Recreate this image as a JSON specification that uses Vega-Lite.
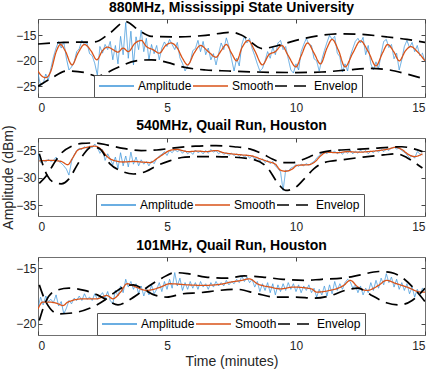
{
  "$schema": "https://vega.github.io/schema/vega-lite/v6.json",
  "padding": {"left": 1, "top": 0, "right": 5, "bottom": 0},
  "config": {
    "font": "Liberation Sans",
    "view": {"stroke": "#707070", "strokeWidth": 1},
    "axis": {"domain": false, "grid": false, "tickSize": -4, "tickColor": "#444444", "labelFontSize": 12, "labelColor": "#262626", "titleFontSize": 14, "titleFontWeight": "normal", "titleColor": "#262626", "titlePadding": 0},
    "axisX": {"labelPadding": 9.5},
    "axisY": {"labelPadding": 6},
    "legend": {"symbolType": "stroke", "symbolSize": 1225, "symbolStrokeWidth": 1.5, "labelFontSize": 12, "labelColor": "#000000", "labelOffset": 3, "columnPadding": 0, "padding": 4, "clipHeight": 14, "strokeColor": "#555555", "fillColor": "white", "cornerRadius": 0},
    "title": {"fontSize": 14, "fontWeight": "bold", "color": "#000000", "offset": 0, "frame": "group"},
    "concat": {"spacing": 41}
  },
  "bounds": "flush",
  "datasets": {
    "amp1": [
      {"t":0.0,"Amplitude":-22.5},{"t":0.1,"Amplitude":-24.8},{"t":0.2,"Amplitude":-24.5},{"t":0.3,"Amplitude":-22.6},{"t":0.4,"Amplitude":-23.8},{"t":0.5,"Amplitude":-21.5},{"t":0.6,"Amplitude":-19.2},{"t":0.7,"Amplitude":-17.5},{"t":0.8,"Amplitude":-16.2},{"t":0.9,"Amplitude":-17.5},
      {"t":1.0,"Amplitude":-16.3},{"t":1.1,"Amplitude":-19.5},{"t":1.2,"Amplitude":-21.8},{"t":1.3,"Amplitude":-21.2},{"t":1.4,"Amplitude":-20.3},{"t":1.5,"Amplitude":-18.2},{"t":1.6,"Amplitude":-17.6},{"t":1.7,"Amplitude":-16.0},{"t":1.8,"Amplitude":-16.8},{"t":1.9,"Amplitude":-16.5},
      {"t":2.0,"Amplitude":-18.6},{"t":2.1,"Amplitude":-19.0},{"t":2.2,"Amplitude":-20.5},{"t":2.3,"Amplitude":-22.8},{"t":2.4,"Amplitude":-17.2},{"t":2.5,"Amplitude":-18.5},{"t":2.6,"Amplitude":-16.8},{"t":2.7,"Amplitude":-17.8},{"t":2.8,"Amplitude":-16.2},{"t":2.9,"Amplitude":-19.8},
      {"t":3.0,"Amplitude":-17.0},{"t":3.1,"Amplitude":-20.6},{"t":3.2,"Amplitude":-15.2},{"t":3.3,"Amplitude":-18.8},{"t":3.4,"Amplitude":-12.5},{"t":3.5,"Amplitude":-19.5},{"t":3.6,"Amplitude":-14.2},{"t":3.7,"Amplitude":-20.8},{"t":3.8,"Amplitude":-15.3},{"t":3.9,"Amplitude":-17.8},
      {"t":4.0,"Amplitude":-14.0},{"t":4.1,"Amplitude":-18.2},{"t":4.2,"Amplitude":-15.6},{"t":4.3,"Amplitude":-19.8},{"t":4.4,"Amplitude":-16.8},{"t":4.5,"Amplitude":-18.6},{"t":4.6,"Amplitude":-17.0},{"t":4.7,"Amplitude":-19.8},{"t":4.8,"Amplitude":-17.5},{"t":4.9,"Amplitude":-16.3},
      {"t":5.0,"Amplitude":-17.2},{"t":5.1,"Amplitude":-15.8},{"t":5.2,"Amplitude":-16.8},{"t":5.3,"Amplitude":-17.8},{"t":5.4,"Amplitude":-16.4},{"t":5.5,"Amplitude":-19.4},{"t":5.6,"Amplitude":-20.5},{"t":5.7,"Amplitude":-22.0},{"t":5.8,"Amplitude":-21.0},{"t":5.9,"Amplitude":-20.2},
      {"t":6.0,"Amplitude":-18.0},{"t":6.1,"Amplitude":-17.6},{"t":6.2,"Amplitude":-16.0},{"t":6.3,"Amplitude":-18.2},{"t":6.4,"Amplitude":-16.2},{"t":6.5,"Amplitude":-18.8},{"t":6.6,"Amplitude":-17.5},{"t":6.7,"Amplitude":-19.8},{"t":6.8,"Amplitude":-18.6},{"t":6.9,"Amplitude":-20.8},
      {"t":7.0,"Amplitude":-18.6},{"t":7.1,"Amplitude":-16.5},{"t":7.2,"Amplitude":-17.8},{"t":7.3,"Amplitude":-15.5},{"t":7.4,"Amplitude":-17.2},{"t":7.5,"Amplitude":-19.6},{"t":7.6,"Amplitude":-22.0},{"t":7.7,"Amplitude":-19.5},{"t":7.8,"Amplitude":-21.0},{"t":7.9,"Amplitude":-16.8},
      {"t":8.0,"Amplitude":-15.2},{"t":8.1,"Amplitude":-16.5},{"t":8.2,"Amplitude":-15.6},{"t":8.3,"Amplitude":-17.6},{"t":8.4,"Amplitude":-19.0},{"t":8.5,"Amplitude":-20.6},{"t":8.6,"Amplitude":-22.0},{"t":8.7,"Amplitude":-21.5},{"t":8.8,"Amplitude":-20.0},{"t":8.9,"Amplitude":-18.2},
      {"t":9.0,"Amplitude":-19.5},{"t":9.1,"Amplitude":-17.3},{"t":9.2,"Amplitude":-18.8},{"t":9.3,"Amplitude":-16.5},{"t":9.4,"Amplitude":-16.0},{"t":9.5,"Amplitude":-17.8},{"t":9.6,"Amplitude":-17.2},{"t":9.7,"Amplitude":-19.6},{"t":9.8,"Amplitude":-21.8},{"t":9.9,"Amplitude":-22.4},
      {"t":10.0,"Amplitude":-20.6},{"t":10.1,"Amplitude":-21.8},{"t":10.2,"Amplitude":-18.2},{"t":10.3,"Amplitude":-16.8},{"t":10.4,"Amplitude":-15.6},{"t":10.5,"Amplitude":-16.8},{"t":10.6,"Amplitude":-17.0},{"t":10.7,"Amplitude":-19.6},{"t":10.8,"Amplitude":-20.0},{"t":10.9,"Amplitude":-22.0},
      {"t":11.0,"Amplitude":-19.8},{"t":11.1,"Amplitude":-18.0},{"t":11.2,"Amplitude":-16.4},{"t":11.3,"Amplitude":-15.0},{"t":11.4,"Amplitude":-15.8},{"t":11.5,"Amplitude":-15.2},{"t":11.6,"Amplitude":-18.5},{"t":11.7,"Amplitude":-19.2},{"t":11.8,"Amplitude":-22.2},{"t":11.9,"Amplitude":-20.6},
      {"t":12.0,"Amplitude":-22.0},{"t":12.1,"Amplitude":-19.2},{"t":12.2,"Amplitude":-17.6},{"t":12.3,"Amplitude":-16.2},{"t":12.4,"Amplitude":-15.6},{"t":12.5,"Amplitude":-16.5},{"t":12.6,"Amplitude":-15.4},{"t":12.7,"Amplitude":-18.8},{"t":12.8,"Amplitude":-17.0},{"t":12.9,"Amplitude":-20.6},
      {"t":13.0,"Amplitude":-21.8},{"t":13.1,"Amplitude":-20.2},{"t":13.2,"Amplitude":-21.6},{"t":13.3,"Amplitude":-18.6},{"t":13.4,"Amplitude":-16.2},{"t":13.5,"Amplitude":-15.8},{"t":13.6,"Amplitude":-17.4},{"t":13.7,"Amplitude":-16.8},{"t":13.8,"Amplitude":-19.6},{"t":13.9,"Amplitude":-18.5},
      {"t":14.0,"Amplitude":-21.8},{"t":14.1,"Amplitude":-19.8},{"t":14.2,"Amplitude":-17.2},{"t":14.3,"Amplitude":-16.0},{"t":14.4,"Amplitude":-17.4},{"t":14.5,"Amplitude":-16.4},{"t":14.6,"Amplitude":-18.2},{"t":14.7,"Amplitude":-17.0},{"t":14.8,"Amplitude":-19.0},{"t":14.9,"Amplitude":-18.5},
      {"t":15.0,"Amplitude":-20.2}
    ],
    "smo1": [
      {"t":0,"Smooth":-22},{"t":0.15,"Smooth":-23},{"t":0.3,"Smooth":-23.3},{"t":0.5,"Smooth":-22},{"t":0.7,"Smooth":-18.3},{"t":0.87,"Smooth":-16.8},{"t":1.05,"Smooth":-18},{"t":1.32,"Smooth":-20.8},{"t":1.55,"Smooth":-18.5},{"t":1.8,"Smooth":-16.8},
      {"t":2.05,"Smooth":-18},{"t":2.28,"Smooth":-19.8},{"t":2.5,"Smooth":-18},{"t":2.7,"Smooth":-17.3},{"t":2.9,"Smooth":-17.8},{"t":3.1,"Smooth":-18.3},{"t":3.3,"Smooth":-17.5},{"t":3.5,"Smooth":-18.2},{"t":3.75,"Smooth":-16.6},{"t":4.0,"Smooth":-16},
      {"t":4.2,"Smooth":-17.2},{"t":4.45,"Smooth":-17.8},{"t":4.7,"Smooth":-18.5},{"t":4.95,"Smooth":-17},{"t":5.15,"Smooth":-16.5},{"t":5.4,"Smooth":-17.5},{"t":5.6,"Smooth":-19.5},{"t":5.8,"Smooth":-20.8},{"t":6.05,"Smooth":-18.5},{"t":6.3,"Smooth":-17},
      {"t":6.6,"Smooth":-18.2},{"t":6.9,"Smooth":-19.3},{"t":7.1,"Smooth":-18},{"t":7.3,"Smooth":-16.8},{"t":7.5,"Smooth":-18.5},{"t":7.7,"Smooth":-20},{"t":7.9,"Smooth":-17.5},{"t":8.15,"Smooth":-16},{"t":8.4,"Smooth":-18},{"t":8.7,"Smooth":-20.8},
      {"t":8.95,"Smooth":-18.8},{"t":9.2,"Smooth":-18.2},{"t":9.45,"Smooth":-17},{"t":9.7,"Smooth":-19},{"t":10.0,"Smooth":-21.2},{"t":10.2,"Smooth":-19},{"t":10.45,"Smooth":-16.5},{"t":10.7,"Smooth":-18.5},{"t":10.95,"Smooth":-20.6},{"t":11.2,"Smooth":-17.5},
      {"t":11.4,"Smooth":-15.8},{"t":11.65,"Smooth":-18},{"t":11.9,"Smooth":-21.2},{"t":12.2,"Smooth":-18.5},{"t":12.5,"Smooth":-16.1},{"t":12.8,"Smooth":-18.2},{"t":13.1,"Smooth":-21},{"t":13.35,"Smooth":-18.5},{"t":13.55,"Smooth":-16.8},{"t":13.8,"Smooth":-18.3},
      {"t":14.0,"Smooth":-20},{"t":14.25,"Smooth":-18},{"t":14.45,"Smooth":-17.2},{"t":14.7,"Smooth":-18.2},{"t":15.0,"Smooth":-20}
    ],
    "env1": [
      {"t":0,"g":"u","Envelop":-16.7},{"t":1,"g":"u","Envelop":-16.4},{"t":2.2,"g":"u","Envelop":-16.3},{"t":2.8,"g":"u","Envelop":-14.5},{"t":3.4,"g":"u","Envelop":-12.3},{"t":3.9,"g":"u","Envelop":-14.0},{"t":4.4,"g":"u","Envelop":-15.2},{"t":5.5,"g":"u","Envelop":-15.3},{"t":6.5,"g":"u","Envelop":-15.0},{"t":7.5,"g":"u","Envelop":-14.4},{"t":7.9,"g":"u","Envelop":-15.0},{"t":8.7,"g":"u","Envelop":-17.6},{"t":9.3,"g":"u","Envelop":-17.0},{"t":10.0,"g":"u","Envelop":-16.0},{"t":11.0,"g":"u","Envelop":-15.0},{"t":11.7,"g":"u","Envelop":-14.7},{"t":12.5,"g":"u","Envelop":-14.8},{"t":13.5,"g":"u","Envelop":-15.3},{"t":14.3,"g":"u","Envelop":-15.8},{"t":15,"g":"u","Envelop":-16.4},
      {"t":0,"g":"l","Envelop":-25},{"t":0.5,"g":"l","Envelop":-23.5},{"t":1.1,"g":"l","Envelop":-22},{"t":1.8,"g":"l","Envelop":-22.3},{"t":2.3,"g":"l","Envelop":-23},{"t":3.0,"g":"l","Envelop":-21.5},{"t":3.8,"g":"l","Envelop":-20},{"t":4.4,"g":"l","Envelop":-19.8},{"t":5.0,"g":"l","Envelop":-20.3},{"t":5.6,"g":"l","Envelop":-21.2},{"t":6.5,"g":"l","Envelop":-21.8},{"t":7.4,"g":"l","Envelop":-22},{"t":8.5,"g":"l","Envelop":-22.2},{"t":10.0,"g":"l","Envelop":-22.3},{"t":11.0,"g":"l","Envelop":-22.2},{"t":12.0,"g":"l","Envelop":-21.8},{"t":12.8,"g":"l","Envelop":-21.5},{"t":13.5,"g":"l","Envelop":-21.7},{"t":14.3,"g":"l","Envelop":-22.6},{"t":15,"g":"l","Envelop":-23.6}
    ],
    "amp2": [
      {"t":0.0,"Amplitude":-25.6},{"t":0.1,"Amplitude":-27.2},{"t":0.2,"Amplitude":-26.8},{"t":0.3,"Amplitude":-27.1},{"t":0.4,"Amplitude":-26.6},{"t":0.5,"Amplitude":-27.0},{"t":0.6,"Amplitude":-26.8},{"t":0.7,"Amplitude":-26.2},{"t":0.8,"Amplitude":-27.0},{"t":0.9,"Amplitude":-27.3},
      {"t":1.0,"Amplitude":-27.8},{"t":1.1,"Amplitude":-28.4},{"t":1.2,"Amplitude":-29.5},{"t":1.3,"Amplitude":-27.0},{"t":1.4,"Amplitude":-25.8},{"t":1.5,"Amplitude":-25.0},{"t":1.6,"Amplitude":-24.6},{"t":1.7,"Amplitude":-24.8},{"t":1.8,"Amplitude":-24.3},{"t":1.9,"Amplitude":-24.6},
      {"t":2.0,"Amplitude":-24.2},{"t":2.1,"Amplitude":-24.5},{"t":2.2,"Amplitude":-23.8},{"t":2.3,"Amplitude":-24.4},{"t":2.4,"Amplitude":-25.5},{"t":2.5,"Amplitude":-24.8},{"t":2.6,"Amplitude":-26.8},{"t":2.7,"Amplitude":-25.6},{"t":2.8,"Amplitude":-26.5},{"t":2.9,"Amplitude":-27.6},
      {"t":3.0,"Amplitude":-26.2},{"t":3.1,"Amplitude":-28.3},{"t":3.2,"Amplitude":-25.4},{"t":3.3,"Amplitude":-27.8},{"t":3.4,"Amplitude":-26.0},{"t":3.5,"Amplitude":-28.0},{"t":3.6,"Amplitude":-25.3},{"t":3.7,"Amplitude":-27.5},{"t":3.8,"Amplitude":-26.2},{"t":3.9,"Amplitude":-27.8},
      {"t":4.0,"Amplitude":-26.7},{"t":4.1,"Amplitude":-27.5},{"t":4.2,"Amplitude":-27.0},{"t":4.3,"Amplitude":-27.8},{"t":4.4,"Amplitude":-26.9},{"t":4.5,"Amplitude":-27.4},{"t":4.6,"Amplitude":-26.5},{"t":4.7,"Amplitude":-26.0},{"t":4.8,"Amplitude":-25.7},{"t":4.9,"Amplitude":-25.2},
      {"t":5.0,"Amplitude":-25.9},{"t":5.1,"Amplitude":-25.0},{"t":5.2,"Amplitude":-25.4},{"t":5.3,"Amplitude":-24.8},{"t":5.4,"Amplitude":-25.2},{"t":5.5,"Amplitude":-24.9},{"t":5.6,"Amplitude":-25.5},{"t":5.7,"Amplitude":-25.0},{"t":5.8,"Amplitude":-25.6},{"t":5.9,"Amplitude":-25.2},
      {"t":6.0,"Amplitude":-25.7},{"t":6.1,"Amplitude":-24.9},{"t":6.2,"Amplitude":-25.4},{"t":6.3,"Amplitude":-25.1},{"t":6.4,"Amplitude":-25.6},{"t":6.5,"Amplitude":-25.0},{"t":6.6,"Amplitude":-25.5},{"t":6.7,"Amplitude":-24.8},{"t":6.8,"Amplitude":-25.3},{"t":6.9,"Amplitude":-25.0},
      {"t":7.0,"Amplitude":-25.6},{"t":7.1,"Amplitude":-25.2},{"t":7.2,"Amplitude":-25.7},{"t":7.3,"Amplitude":-25.4},{"t":7.4,"Amplitude":-25.9},{"t":7.5,"Amplitude":-25.5},{"t":7.6,"Amplitude":-25.9},{"t":7.7,"Amplitude":-25.6},{"t":7.8,"Amplitude":-26.1},{"t":7.9,"Amplitude":-25.7},
      {"t":8.0,"Amplitude":-26.2},{"t":8.1,"Amplitude":-25.8},{"t":8.2,"Amplitude":-26.4},{"t":8.3,"Amplitude":-26.0},{"t":8.4,"Amplitude":-26.6},{"t":8.5,"Amplitude":-26.2},{"t":8.6,"Amplitude":-26.9},{"t":8.7,"Amplitude":-26.5},{"t":8.8,"Amplitude":-27.2},{"t":8.9,"Amplitude":-26.8},
      {"t":9.0,"Amplitude":-27.4},{"t":9.1,"Amplitude":-27.0},{"t":9.2,"Amplitude":-27.8},{"t":9.3,"Amplitude":-28.3},{"t":9.4,"Amplitude":-28.9},{"t":9.5,"Amplitude":-32.3},{"t":9.6,"Amplitude":-28.6},{"t":9.7,"Amplitude":-28.8},{"t":9.8,"Amplitude":-28.2},{"t":9.9,"Amplitude":-28.0},
      {"t":10.0,"Amplitude":-27.6},{"t":10.1,"Amplitude":-27.9},{"t":10.2,"Amplitude":-27.5},{"t":10.3,"Amplitude":-27.8},{"t":10.4,"Amplitude":-27.4},{"t":10.5,"Amplitude":-27.7},{"t":10.6,"Amplitude":-27.3},{"t":10.7,"Amplitude":-27.0},{"t":10.8,"Amplitude":-26.4},{"t":10.9,"Amplitude":-25.9},
      {"t":11.0,"Amplitude":-25.5},{"t":11.1,"Amplitude":-25.2},{"t":11.2,"Amplitude":-25.6},{"t":11.3,"Amplitude":-25.0},{"t":11.4,"Amplitude":-25.4},{"t":11.5,"Amplitude":-25.1},{"t":11.6,"Amplitude":-25.6},{"t":11.7,"Amplitude":-25.2},{"t":11.8,"Amplitude":-25.7},{"t":11.9,"Amplitude":-25.1},
      {"t":12.0,"Amplitude":-25.5},{"t":12.1,"Amplitude":-24.9},{"t":12.2,"Amplitude":-25.6},{"t":12.3,"Amplitude":-25.1},{"t":12.4,"Amplitude":-25.5},{"t":12.5,"Amplitude":-24.9},{"t":12.6,"Amplitude":-25.4},{"t":12.7,"Amplitude":-25.0},{"t":12.8,"Amplitude":-25.6},{"t":12.9,"Amplitude":-25.1},
      {"t":13.0,"Amplitude":-25.4},{"t":13.1,"Amplitude":-24.9},{"t":13.2,"Amplitude":-25.3},{"t":13.3,"Amplitude":-24.8},{"t":13.4,"Amplitude":-25.2},{"t":13.5,"Amplitude":-24.7},{"t":13.6,"Amplitude":-25.0},{"t":13.7,"Amplitude":-24.5},{"t":13.8,"Amplitude":-24.4},{"t":13.9,"Amplitude":-24.7},
      {"t":14.0,"Amplitude":-24.6},{"t":14.1,"Amplitude":-25.0},{"t":14.2,"Amplitude":-25.3},{"t":14.3,"Amplitude":-25.8},{"t":14.4,"Amplitude":-26.3},{"t":14.5,"Amplitude":-25.9},{"t":14.6,"Amplitude":-26.4},{"t":14.7,"Amplitude":-25.2},{"t":14.8,"Amplitude":-25.6},{"t":14.9,"Amplitude":-25.8}
    ],
    "smo2": [
      {"t":0.05,"Smooth":-26.9},{"t":0.5,"Smooth":-26.8},{"t":0.9,"Smooth":-27.0},{"t":1.15,"Smooth":-27.6},{"t":1.35,"Smooth":-26.3},{"t":1.55,"Smooth":-24.9},{"t":1.9,"Smooth":-24.4},{"t":2.2,"Smooth":-24.2},{"t":2.45,"Smooth":-24.8},{"t":2.7,"Smooth":-26.2},
      {"t":3.0,"Smooth":-26.9},{"t":3.3,"Smooth":-27.1},{"t":3.7,"Smooth":-27.0},{"t":4.0,"Smooth":-27.1},{"t":4.35,"Smooth":-27.2},{"t":4.6,"Smooth":-26.5},{"t":4.85,"Smooth":-25.7},{"t":5.1,"Smooth":-25.0},{"t":5.4,"Smooth":-24.8},{"t":5.8,"Smooth":-25.2},
      {"t":6.2,"Smooth":-25.1},{"t":6.5,"Smooth":-25.2},{"t":6.9,"Smooth":-25.0},{"t":7.2,"Smooth":-25.4},{"t":7.5,"Smooth":-25.6},{"t":7.9,"Smooth":-25.8},{"t":8.3,"Smooth":-26.0},{"t":8.6,"Smooth":-26.5},{"t":8.9,"Smooth":-27.0},{"t":9.2,"Smooth":-27.5},
      {"t":9.4,"Smooth":-28.6},{"t":9.6,"Smooth":-28.8},{"t":9.85,"Smooth":-28.4},{"t":10.05,"Smooth":-27.7},{"t":10.5,"Smooth":-27.6},{"t":10.75,"Smooth":-27.0},{"t":10.95,"Smooth":-26.0},{"t":11.2,"Smooth":-25.3},{"t":11.6,"Smooth":-25.4},{"t":12.0,"Smooth":-25.2},
      {"t":12.4,"Smooth":-25.3},{"t":12.8,"Smooth":-25.2},{"t":13.2,"Smooth":-25.0},{"t":13.6,"Smooth":-24.7},{"t":13.85,"Smooth":-24.4},{"t":14.1,"Smooth":-24.8},{"t":14.35,"Smooth":-25.7},{"t":14.6,"Smooth":-26.1},{"t":14.9,"Smooth":-25.6}
    ],
    "env2": [
      {"t":0.05,"g":"a","Envelop":-25.6},{"t":0.35,"g":"a","Envelop":-29.5},{"t":0.6,"g":"a","Envelop":-30.8},{"t":0.9,"g":"a","Envelop":-31.1},{"t":1.2,"g":"a","Envelop":-30.2},{"t":1.5,"g":"a","Envelop":-27.8},{"t":1.8,"g":"a","Envelop":-25.5},{"t":2.1,"g":"a","Envelop":-24.3},{"t":2.4,"g":"a","Envelop":-24.7},{"t":2.8,"g":"a","Envelop":-27.5},{"t":3.2,"g":"a","Envelop":-28.7},{"t":3.7,"g":"a","Envelop":-29.3},{"t":4.2,"g":"a","Envelop":-28.8},{"t":4.6,"g":"a","Envelop":-27.8},{"t":5.1,"g":"a","Envelop":-26.9},{"t":5.7,"g":"a","Envelop":-26.2},{"t":6.5,"g":"a","Envelop":-26.1},{"t":7.5,"g":"a","Envelop":-26.2},{"t":8.4,"g":"a","Envelop":-26.7},{"t":8.9,"g":"a","Envelop":-28.2},{"t":9.3,"g":"a","Envelop":-31.0},{"t":9.6,"g":"a","Envelop":-32.3},{"t":9.9,"g":"a","Envelop":-32.0},{"t":10.3,"g":"a","Envelop":-30.3},{"t":10.7,"g":"a","Envelop":-28.3},{"t":11.1,"g":"a","Envelop":-27.2},{"t":11.8,"g":"a","Envelop":-26.7},{"t":12.6,"g":"a","Envelop":-26.2},{"t":13.4,"g":"a","Envelop":-25.8},{"t":13.9,"g":"a","Envelop":-25.6},{"t":14.3,"g":"a","Envelop":-26.3},{"t":14.6,"g":"a","Envelop":-27.2},{"t":14.9,"g":"a","Envelop":-28.2},
      {"t":0.05,"g":"b","Envelop":-31.0},{"t":0.35,"g":"b","Envelop":-29.5},{"t":0.6,"g":"b","Envelop":-27.5},{"t":0.9,"g":"b","Envelop":-25.5},{"t":1.3,"g":"b","Envelop":-24.2},{"t":1.7,"g":"b","Envelop":-23.7},{"t":2.2,"g":"b","Envelop":-23.6},{"t":2.7,"g":"b","Envelop":-24.0},{"t":3.3,"g":"b","Envelop":-24.6},{"t":4.0,"g":"b","Envelop":-25.0},{"t":4.6,"g":"b","Envelop":-24.9},{"t":5.3,"g":"b","Envelop":-24.5},{"t":6.1,"g":"b","Envelop":-24.2},{"t":6.9,"g":"b","Envelop":-24.1},{"t":7.6,"g":"b","Envelop":-24.3},{"t":8.2,"g":"b","Envelop":-24.7},{"t":8.7,"g":"b","Envelop":-25.6},{"t":9.1,"g":"b","Envelop":-26.6},{"t":9.5,"g":"b","Envelop":-27.2},{"t":9.9,"g":"b","Envelop":-27.2},{"t":10.3,"g":"b","Envelop":-26.6},{"t":10.8,"g":"b","Envelop":-25.6},{"t":11.4,"g":"b","Envelop":-25.0},{"t":12.2,"g":"b","Envelop":-24.8},{"t":13.0,"g":"b","Envelop":-24.6},{"t":13.6,"g":"b","Envelop":-24.4},{"t":14.1,"g":"b","Envelop":-24.3},{"t":14.5,"g":"b","Envelop":-24.6},{"t":14.9,"g":"b","Envelop":-25.2}
    ],
    "amp3": [
      {"t":0.0,"Amplitude":-18.6},{"t":0.1,"Amplitude":-17.6},{"t":0.2,"Amplitude":-18.3},{"t":0.3,"Amplitude":-17.5},{"t":0.4,"Amplitude":-18.0},{"t":0.5,"Amplitude":-17.8},{"t":0.6,"Amplitude":-18.1},{"t":0.7,"Amplitude":-17.4},{"t":0.8,"Amplitude":-18.4},{"t":0.9,"Amplitude":-18.0},
      {"t":1.0,"Amplitude":-19.1},{"t":1.1,"Amplitude":-18.6},{"t":1.2,"Amplitude":-17.9},{"t":1.3,"Amplitude":-18.2},{"t":1.4,"Amplitude":-17.7},{"t":1.5,"Amplitude":-17.9},{"t":1.6,"Amplitude":-17.5},{"t":1.7,"Amplitude":-17.9},{"t":1.8,"Amplitude":-17.3},{"t":1.9,"Amplitude":-17.8},
      {"t":2.0,"Amplitude":-17.6},{"t":2.1,"Amplitude":-17.9},{"t":2.2,"Amplitude":-17.3},{"t":2.3,"Amplitude":-17.8},{"t":2.4,"Amplitude":-17.5},{"t":2.5,"Amplitude":-17.2},{"t":2.6,"Amplitude":-17.7},{"t":2.7,"Amplitude":-17.1},{"t":2.8,"Amplitude":-17.9},{"t":2.9,"Amplitude":-18.2},
      {"t":3.0,"Amplitude":-17.0},{"t":3.1,"Amplitude":-17.5},{"t":3.2,"Amplitude":-16.6},{"t":3.3,"Amplitude":-17.2},{"t":3.4,"Amplitude":-16.0},{"t":3.5,"Amplitude":-16.7},{"t":3.6,"Amplitude":-16.2},{"t":3.7,"Amplitude":-16.9},{"t":3.8,"Amplitude":-16.4},{"t":3.9,"Amplitude":-17.3},
      {"t":4.0,"Amplitude":-16.6},{"t":4.1,"Amplitude":-17.5},{"t":4.2,"Amplitude":-16.8},{"t":4.3,"Amplitude":-17.4},{"t":4.4,"Amplitude":-16.5},{"t":4.5,"Amplitude":-17.3},{"t":4.6,"Amplitude":-16.9},{"t":4.7,"Amplitude":-16.3},{"t":4.8,"Amplitude":-17.1},{"t":4.9,"Amplitude":-16.2},
      {"t":5.0,"Amplitude":-16.9},{"t":5.1,"Amplitude":-16.0},{"t":5.2,"Amplitude":-16.8},{"t":5.3,"Amplitude":-15.4},{"t":5.4,"Amplitude":-16.6},{"t":5.5,"Amplitude":-15.9},{"t":5.6,"Amplitude":-17.0},{"t":5.7,"Amplitude":-16.3},{"t":5.8,"Amplitude":-16.9},{"t":5.9,"Amplitude":-16.2},
      {"t":6.0,"Amplitude":-16.8},{"t":6.1,"Amplitude":-16.3},{"t":6.2,"Amplitude":-16.9},{"t":6.3,"Amplitude":-16.2},{"t":6.4,"Amplitude":-16.7},{"t":6.5,"Amplitude":-16.4},{"t":6.6,"Amplitude":-16.9},{"t":6.7,"Amplitude":-16.3},{"t":6.8,"Amplitude":-16.7},{"t":6.9,"Amplitude":-16.2},
      {"t":7.0,"Amplitude":-16.6},{"t":7.1,"Amplitude":-16.3},{"t":7.2,"Amplitude":-16.6},{"t":7.3,"Amplitude":-16.1},{"t":7.4,"Amplitude":-16.5},{"t":7.5,"Amplitude":-16.2},{"t":7.6,"Amplitude":-16.4},{"t":7.7,"Amplitude":-16.0},{"t":7.8,"Amplitude":-16.3},{"t":7.9,"Amplitude":-15.7},
      {"t":8.0,"Amplitude":-16.2},{"t":8.1,"Amplitude":-15.8},{"t":8.2,"Amplitude":-16.3},{"t":8.3,"Amplitude":-16.0},{"t":8.4,"Amplitude":-16.7},{"t":8.5,"Amplitude":-16.2},{"t":8.6,"Amplitude":-17.1},{"t":8.7,"Amplitude":-16.4},{"t":8.8,"Amplitude":-17.0},{"t":8.9,"Amplitude":-16.3},
      {"t":9.0,"Amplitude":-17.2},{"t":9.1,"Amplitude":-16.4},{"t":9.2,"Amplitude":-17.4},{"t":9.3,"Amplitude":-16.5},{"t":9.4,"Amplitude":-17.1},{"t":9.5,"Amplitude":-16.4},{"t":9.6,"Amplitude":-17.0},{"t":9.7,"Amplitude":-16.3},{"t":9.8,"Amplitude":-16.9},{"t":9.9,"Amplitude":-16.4},
      {"t":10.0,"Amplitude":-17.1},{"t":10.1,"Amplitude":-16.5},{"t":10.2,"Amplitude":-17.2},{"t":10.3,"Amplitude":-16.6},{"t":10.4,"Amplitude":-17.0},{"t":10.5,"Amplitude":-16.5},{"t":10.6,"Amplitude":-17.2},{"t":10.7,"Amplitude":-16.8},{"t":10.8,"Amplitude":-17.6},{"t":10.9,"Amplitude":-16.9},
      {"t":11.0,"Amplitude":-17.4},{"t":11.1,"Amplitude":-16.6},{"t":11.2,"Amplitude":-17.5},{"t":11.3,"Amplitude":-16.5},{"t":11.4,"Amplitude":-17.3},{"t":11.5,"Amplitude":-16.2},{"t":11.6,"Amplitude":-17.0},{"t":11.7,"Amplitude":-16.4},{"t":11.8,"Amplitude":-16.9},{"t":11.9,"Amplitude":-16.3},
      {"t":12.0,"Amplitude":-16.0},{"t":12.1,"Amplitude":-16.2},{"t":12.2,"Amplitude":-16.8},{"t":12.3,"Amplitude":-16.5},{"t":12.4,"Amplitude":-17.2},{"t":12.5,"Amplitude":-16.6},{"t":12.6,"Amplitude":-17.4},{"t":12.7,"Amplitude":-16.8},{"t":12.8,"Amplitude":-17.2},{"t":12.9,"Amplitude":-16.3},
      {"t":13.0,"Amplitude":-17.0},{"t":13.1,"Amplitude":-16.1},{"t":13.2,"Amplitude":-16.8},{"t":13.3,"Amplitude":-15.9},{"t":13.4,"Amplitude":-16.5},{"t":13.5,"Amplitude":-15.5},{"t":13.6,"Amplitude":-16.3},{"t":13.7,"Amplitude":-15.8},{"t":13.8,"Amplitude":-16.7},{"t":13.9,"Amplitude":-16.0},
      {"t":14.0,"Amplitude":-16.9},{"t":14.1,"Amplitude":-16.3},{"t":14.2,"Amplitude":-17.0},{"t":14.3,"Amplitude":-16.4},{"t":14.4,"Amplitude":-17.3},{"t":14.5,"Amplitude":-16.7},{"t":14.6,"Amplitude":-17.6},{"t":14.7,"Amplitude":-16.9},{"t":14.8,"Amplitude":-17.4},{"t":14.9,"Amplitude":-16.8},
      {"t":15.0,"Amplitude":-17.0}
    ],
    "smo3": [
      {"t":0.0,"Smooth":-18.66},{"t":0.18,"Smooth":-18.05},{"t":0.45,"Smooth":-18.05},{"t":0.78,"Smooth":-18.2},{"t":0.97,"Smooth":-18.36},{"t":1.15,"Smooth":-18.05},{"t":1.77,"Smooth":-17.75},{"t":2.28,"Smooth":-17.75},{"t":2.67,"Smooth":-17.45},{"t":2.9,"Smooth":-17.75},
      {"t":3.2,"Smooth":-17.15},{"t":3.45,"Smooth":-16.4},{"t":3.8,"Smooth":-16.7},{"t":4.2,"Smooth":-17.0},{"t":4.75,"Smooth":-16.7},{"t":5.1,"Smooth":-16.4},{"t":5.8,"Smooth":-16.5},{"t":6.4,"Smooth":-16.55},{"t":7.2,"Smooth":-16.4},{"t":7.45,"Smooth":-16.26},
      {"t":7.9,"Smooth":-16.1},{"t":8.2,"Smooth":-15.96},{"t":8.5,"Smooth":-16.4},{"t":9.0,"Smooth":-16.7},{"t":9.4,"Smooth":-16.86},{"t":9.9,"Smooth":-16.7},{"t":10.6,"Smooth":-16.86},{"t":10.8,"Smooth":-17.15},{"t":11.3,"Smooth":-17.0},{"t":11.85,"Smooth":-16.55},
      {"t":12.1,"Smooth":-16.1},{"t":12.4,"Smooth":-16.7},{"t":12.75,"Smooth":-17.0},{"t":13.2,"Smooth":-16.55},{"t":13.5,"Smooth":-16.1},{"t":13.9,"Smooth":-16.4},{"t":14.3,"Smooth":-16.7},{"t":14.85,"Smooth":-17.15},{"t":15.0,"Smooth":-17.15}
    ],
    "env3": [
      {"t":0.05,"g":"a","Envelop":-19.7},{"t":0.3,"g":"a","Envelop":-18.0},{"t":0.7,"g":"a","Envelop":-17.0},{"t":1.2,"g":"a","Envelop":-16.8},{"t":1.8,"g":"a","Envelop":-17.0},{"t":2.3,"g":"a","Envelop":-17.4},{"t":2.7,"g":"a","Envelop":-17.9},{"t":3.1,"g":"a","Envelop":-18.3},{"t":3.5,"g":"a","Envelop":-17.9},{"t":3.9,"g":"a","Envelop":-17.3},{"t":4.3,"g":"a","Envelop":-16.6},{"t":4.8,"g":"a","Envelop":-15.9},{"t":5.3,"g":"a","Envelop":-15.4},{"t":5.8,"g":"a","Envelop":-15.5},{"t":6.5,"g":"a","Envelop":-15.8},{"t":7.3,"g":"a","Envelop":-15.9},{"t":8.0,"g":"a","Envelop":-15.7},{"t":8.7,"g":"a","Envelop":-15.8},{"t":9.5,"g":"a","Envelop":-16.0},{"t":10.3,"g":"a","Envelop":-16.1},{"t":11.0,"g":"a","Envelop":-16.0},{"t":11.8,"g":"a","Envelop":-15.9},{"t":12.5,"g":"a","Envelop":-15.6},{"t":13.2,"g":"a","Envelop":-15.3},{"t":13.7,"g":"a","Envelop":-15.4},{"t":14.2,"g":"a","Envelop":-16.0},{"t":14.6,"g":"a","Envelop":-16.9},{"t":15.0,"g":"a","Envelop":-18.0},
      {"t":0.05,"g":"b","Envelop":-16.5},{"t":0.3,"g":"b","Envelop":-18.0},{"t":0.8,"g":"b","Envelop":-19.1},{"t":1.4,"g":"b","Envelop":-19.0},{"t":2.0,"g":"b","Envelop":-18.6},{"t":2.5,"g":"b","Envelop":-18.0},{"t":2.9,"g":"b","Envelop":-17.3},{"t":3.3,"g":"b","Envelop":-16.7},{"t":3.7,"g":"b","Envelop":-16.5},{"t":4.1,"g":"b","Envelop":-16.9},{"t":4.5,"g":"b","Envelop":-17.4},{"t":5.0,"g":"b","Envelop":-17.6},{"t":5.6,"g":"b","Envelop":-17.3},{"t":6.3,"g":"b","Envelop":-17.2},{"t":7.0,"g":"b","Envelop":-17.0},{"t":7.7,"g":"b","Envelop":-16.9},{"t":8.5,"g":"b","Envelop":-17.3},{"t":9.2,"g":"b","Envelop":-17.6},{"t":10.0,"g":"b","Envelop":-17.6},{"t":10.7,"g":"b","Envelop":-17.7},{"t":11.3,"g":"b","Envelop":-17.5},{"t":11.9,"g":"b","Envelop":-17.0},{"t":12.4,"g":"b","Envelop":-16.8},{"t":12.9,"g":"b","Envelop":-17.4},{"t":13.5,"g":"b","Envelop":-18.1},{"t":14.0,"g":"b","Envelop":-18.3},{"t":14.5,"g":"b","Envelop":-17.9},{"t":14.8,"g":"b","Envelop":-17.3},{"t":15.0,"g":"b","Envelop":-16.8}
    ]
  },
  "vconcat": [
    {
      "title": {"text": "880MHz, Mississippi State University"},
      "width": 387, "height": 78,
      "layer": [
        {"data": {"name": "amp1"}, "transform": [{"fold": ["Amplitude"], "as": ["s", "v"]}],
         "mark": {"type": "line", "strokeWidth": 0.8, "clip": true},
         "encoding": {
           "x": {"field": "t", "type": "quantitative", "scale": {"domain": [0, 15], "nice": false}, "axis": {"values": [0, 5, 10, 15], "title": null}},
           "y": {"field": "v", "type": "quantitative", "scale": {"domain": [-27.1, -11.8], "nice": false, "zero": false}, "axis": {"values": [-25, -20, -15], "title": null}},
           "stroke": {"field": "s", "type": "nominal", "scale": {"domain": ["Amplitude", "Smooth", "Envelop"], "range": ["#3b94d9", "#D95319", "#000000"]}, "legend": {"orient": "none", "legendX": 56, "legendY": 56, "direction": "horizontal", "title": null}},
           "strokeDash": {"field": "s", "type": "nominal", "scale": {"domain": ["Amplitude", "Smooth", "Envelop"], "range": [[1, 0], [1, 0], [12, 7]]}, "legend": {"orient": "none", "legendX": 56, "legendY": 56, "direction": "horizontal", "title": null}}
         }},
        {"data": {"name": "smo1"}, "transform": [{"fold": ["Smooth"], "as": ["s", "v"]}],
         "mark": {"type": "line", "strokeWidth": 1.3, "interpolate": "monotone", "clip": true},
         "encoding": {
           "x": {"field": "t", "type": "quantitative", "axis": null},
           "y": {"field": "v", "type": "quantitative", "axis": null},
           "stroke": {"field": "s", "type": "nominal"},
           "strokeDash": {"field": "s", "type": "nominal"}
         }},
        {"data": {"name": "env1"}, "transform": [{"fold": ["Envelop"], "as": ["s", "v"]}],
         "mark": {"type": "line", "strokeWidth": 1.7, "interpolate": "monotone", "clip": true},
         "encoding": {
           "x": {"field": "t", "type": "quantitative", "axis": {"orient": "top", "labels": false, "title": null, "values": [0, 5, 10, 15]}},
           "y": {"field": "v", "type": "quantitative", "axis": {"orient": "right", "labels": false, "title": null, "values": [-25, -20, -15]}},
           "detail": {"field": "g"},
           "stroke": {"field": "s", "type": "nominal"},
           "strokeDash": {"field": "s", "type": "nominal"}
         }}
      ],
      "resolve": {"axis": {"x": "independent", "y": "independent"}}
    },
    {
      "title": {"text": "540MHz, Quail Run, Houston", "dy": 12},
      "width": 387, "height": 78,
      "layer": [
        {"data": {"name": "amp2"}, "transform": [{"fold": ["Amplitude"], "as": ["s", "v"]}],
         "mark": {"type": "line", "strokeWidth": 0.8, "clip": true},
         "encoding": {
           "x": {"field": "t", "type": "quantitative", "scale": {"domain": [0, 15], "nice": false}, "axis": {"values": [0, 5, 10, 15], "title": null}},
           "y": {"field": "v", "type": "quantitative", "scale": {"domain": [-37, -22.7], "nice": false, "zero": false}, "axis": {"values": [-35, -30, -25], "title": "Amplitude (dBm)"}},
           "stroke": {"field": "s", "type": "nominal", "scale": {"domain": ["Amplitude", "Smooth", "Envelop"], "range": ["#3b94d9", "#D95319", "#000000"]}, "legend": {"orient": "none", "legendX": 58, "legendY": 56, "direction": "horizontal", "title": null}},
           "strokeDash": {"field": "s", "type": "nominal", "scale": {"domain": ["Amplitude", "Smooth", "Envelop"], "range": [[1, 0], [1, 0], [12, 7]]}, "legend": {"orient": "none", "legendX": 58, "legendY": 56, "direction": "horizontal", "title": null}}
         }},
        {"data": {"name": "smo2"}, "transform": [{"fold": ["Smooth"], "as": ["s", "v"]}],
         "mark": {"type": "line", "strokeWidth": 1.3, "interpolate": "monotone", "clip": true},
         "encoding": {
           "x": {"field": "t", "type": "quantitative", "axis": null},
           "y": {"field": "v", "type": "quantitative", "axis": null},
           "stroke": {"field": "s", "type": "nominal"},
           "strokeDash": {"field": "s", "type": "nominal"}
         }},
        {"data": {"name": "env2"}, "transform": [{"fold": ["Envelop"], "as": ["s", "v"]}],
         "mark": {"type": "line", "strokeWidth": 1.7, "interpolate": "monotone", "clip": true},
         "encoding": {
           "x": {"field": "t", "type": "quantitative", "axis": {"orient": "top", "labels": false, "title": null, "values": [0, 5, 10, 15]}},
           "y": {"field": "v", "type": "quantitative", "axis": {"orient": "right", "labels": false, "title": null, "values": [-35, -30, -25]}},
           "detail": {"field": "g"},
           "stroke": {"field": "s", "type": "nominal"},
           "strokeDash": {"field": "s", "type": "nominal"}
         }}
      ],
      "resolve": {"axis": {"x": "independent", "y": "independent"}}
    },
    {
      "title": {"text": "101MHz, Quail Run, Houston"},
      "width": 387, "height": 78,
      "layer": [
        {"data": {"name": "amp3"}, "transform": [{"fold": ["Amplitude"], "as": ["s", "v"]}],
         "mark": {"type": "line", "strokeWidth": 0.8, "clip": true},
         "encoding": {
           "x": {"field": "t", "type": "quantitative", "scale": {"domain": [0, 15], "nice": false}, "axis": {"values": [0, 5, 10, 15], "title": "Time (minutes)", "titlePadding": 3}},
           "y": {"field": "v", "type": "quantitative", "scale": {"domain": [-21, -14], "nice": false, "zero": false}, "axis": {"values": [-20, -15], "title": null}},
           "stroke": {"field": "s", "type": "nominal", "scale": {"domain": ["Amplitude", "Smooth", "Envelop"], "range": ["#3b94d9", "#D95319", "#000000"]}, "legend": {"orient": "none", "legendX": 59, "legendY": 56, "direction": "horizontal", "title": null}},
           "strokeDash": {"field": "s", "type": "nominal", "scale": {"domain": ["Amplitude", "Smooth", "Envelop"], "range": [[1, 0], [1, 0], [12, 7]]}, "legend": {"orient": "none", "legendX": 59, "legendY": 56, "direction": "horizontal", "title": null}}
         }},
        {"data": {"name": "smo3"}, "transform": [{"fold": ["Smooth"], "as": ["s", "v"]}],
         "mark": {"type": "line", "strokeWidth": 1.3, "interpolate": "monotone", "clip": true},
         "encoding": {
           "x": {"field": "t", "type": "quantitative", "axis": null},
           "y": {"field": "v", "type": "quantitative", "axis": null},
           "stroke": {"field": "s", "type": "nominal"},
           "strokeDash": {"field": "s", "type": "nominal"}
         }},
        {"data": {"name": "env3"}, "transform": [{"fold": ["Envelop"], "as": ["s", "v"]}],
         "mark": {"type": "line", "strokeWidth": 1.7, "interpolate": "monotone", "clip": true},
         "encoding": {
           "x": {"field": "t", "type": "quantitative", "axis": {"orient": "top", "labels": false, "title": null, "values": [0, 5, 10, 15]}},
           "y": {"field": "v", "type": "quantitative", "axis": {"orient": "right", "labels": false, "title": null, "values": [-20, -15]}},
           "detail": {"field": "g"},
           "stroke": {"field": "s", "type": "nominal"},
           "strokeDash": {"field": "s", "type": "nominal"}
         }}
      ],
      "resolve": {"axis": {"x": "independent", "y": "independent"}}
    }
  ],
  "resolve": {"scale": {"stroke": "independent", "strokeDash": "independent"}, "legend": {"stroke": "independent", "strokeDash": "independent"}}
}
